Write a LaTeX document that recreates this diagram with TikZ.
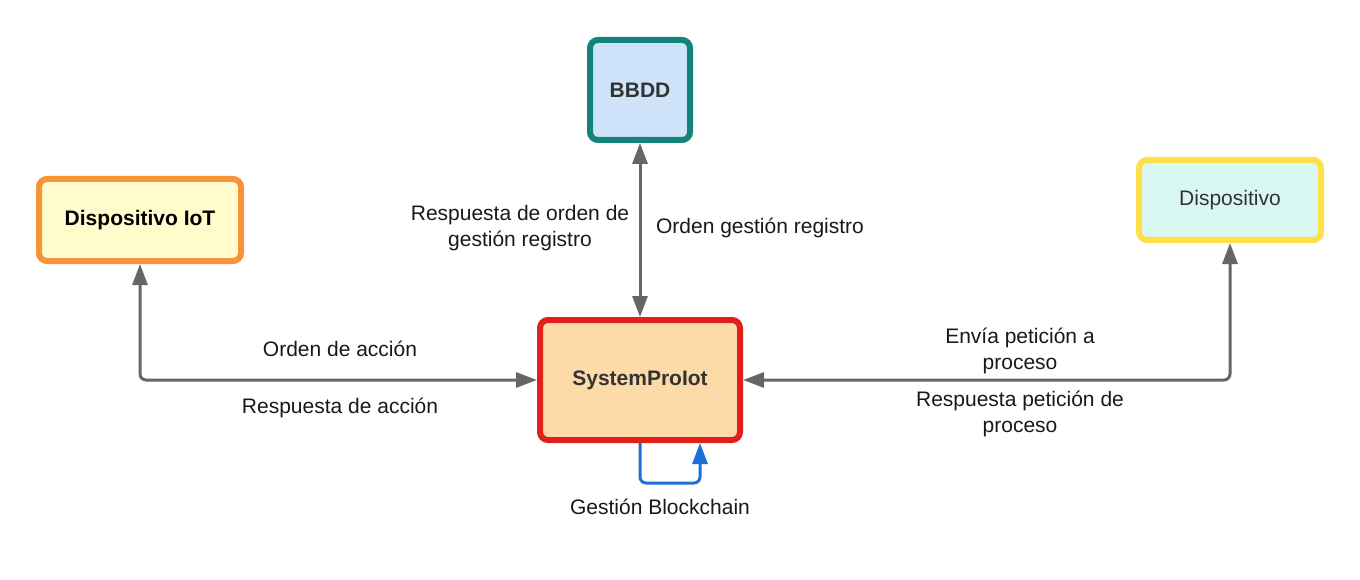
\documentclass[tikz,border=0pt]{standalone}
\usepackage{fontspec}
\setmainfont{Liberation Sans}
\usetikzlibrary{arrows.meta}
\definecolor{bbddfill}{HTML}{CFE4FB}
\definecolor{bbddline}{HTML}{13847A}
\definecolor{iotfill}{HTML}{FFFBCC}
\definecolor{iotline}{HTML}{F7943A}
\definecolor{sysfill}{HTML}{FCDBA8}
\definecolor{sysline}{HTML}{E1201C}
\definecolor{devfill}{HTML}{D8F8F1}
\definecolor{devline}{HTML}{FDE04A}
\definecolor{conngray}{HTML}{666666}
\definecolor{loopblue}{HTML}{1C6FD8}
\definecolor{txtdark}{HTML}{333333}
\begin{document}
\begin{tikzpicture}[x=1pt,y=-1pt,
  box/.style={draw, line width=6pt, rounded corners=8pt, font=\fontsize{21}{26}\selectfont, text=txtdark, inner sep=0pt},
  lbl/.style={font=\fontsize{21}{26}\selectfont, text=black!90, align=center, inner sep=0pt},
  conn/.style={draw=conngray, line width=3pt, rounded corners=6pt, {Triangle[length=21pt,width=15pt]}-{Triangle[length=21pt,width=15pt]}},
  selfloop/.style={draw=loopblue, line width=3pt, rounded corners=6pt, -{Triangle[length=21pt,width=15pt]}}
]
\useasboundingbox (0,0) rectangle (1360,580);

\node[box, fill=bbddfill, draw=bbddline, minimum width=100pt, minimum height=100pt, font=\fontsize{21}{26}\selectfont\bfseries] (bbdd) at (640,90) {BBDD};
\node[box, fill=iotfill, draw=iotline, minimum width=202pt, minimum height=82pt, text=black, font=\fontsize{21}{26}\selectfont\bfseries] (iot) at (140,220) {Dispositivo IoT};
\node[box, fill=sysfill, draw=sysline, minimum width=200pt, minimum height=120pt, font=\fontsize{21}{26}\selectfont\bfseries] (sys) at (640,380) {SystemProIot};
\node[box, fill=devfill, draw=devline, minimum width=182pt, minimum height=80pt] (dev) at (1230,200) {Dispositivo};

\draw[conn] (bbdd.south) -- (sys.north);
\draw[conn] (iot.south) |- (sys.west);
\draw[conn] (dev.south) |- (sys.east);
\coordinate (loopend) at ([xshift=60pt]sys.south);
\draw[selfloop] (sys.south) -- ++(0,40) -| (loopend);

\node[lbl] (l1) at (520,228) {Respuesta de orden de\\gestión registro};
\node[lbl] (l2) at (760,228) {Orden gestión registro};
\node[lbl] (l3) at (340,349) {Orden de acción};
\node[lbl] (l4) at (340,408) {Respuesta de acción};
\node[lbl] (l5) at (1020,351) {Envía petición a\\proceso};
\node[lbl] (l6) at (1020,414) {Respuesta petición de\\proceso};
\node[lbl] (l7) at (660,507) {Gestión Blockchain};
\end{tikzpicture}
\end{document}
